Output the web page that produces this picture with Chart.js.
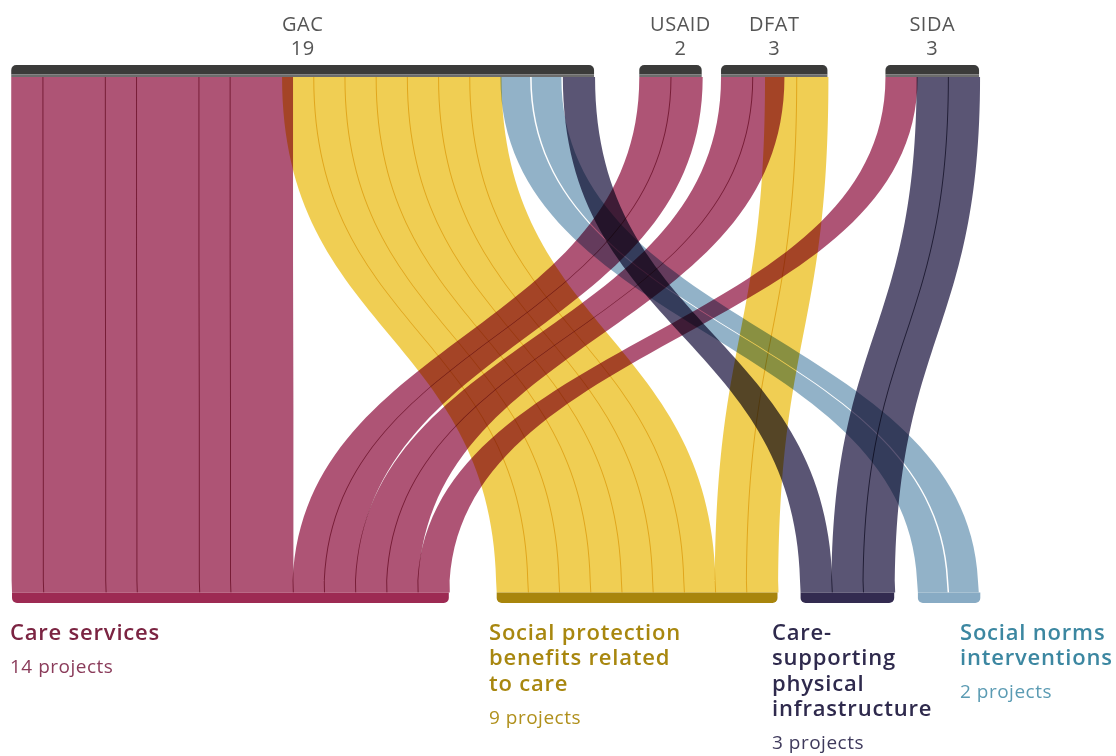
<!DOCTYPE html>
<html>
<head>
<meta charset="utf-8">
<script src="https://cdn.jsdelivr.net/npm/chart.js@4.4.1/dist/chart.umd.min.js"></script>
<style>
  html, body { margin: 0; padding: 0; background: #fff; }
  #wrap { width: 1116px; height: 756px; }
</style>
</head>
<body>
<div id="wrap"><canvas id="flowChart"></canvas></div>
<script>
// Funders (top row) and care categories (bottom row)
const sources = ['GAC', 'USAID', 'DFAT', 'SIDA'];
const sourceProjects = [19, 2, 3, 3];
const targetLines = [
    ['Care services'],
    ['Social protection', 'benefits related', 'to care'],
    ['Care-', 'supporting', 'physical', 'infrastructure'],
    ['Social norms', 'interventions']
];
const targetProjects = [14, 9, 3, 2];

// One entry per ribbon, in the order the ribbons leave each funder
const flowFrom = [0, 0, 0, 0, 0, 0,  0, 0, 0, 0, 0, 0, 0,  0, 0,  0,  1, 1,  2, 2, 2, 2,  3, 3, 3];
const flowTo   = [0, 0, 0, 0, 0, 0,  1, 1, 1, 1, 1, 1, 1,  3, 3,  2,  0, 0,  0, 0, 1, 1,  0, 2, 2];
const flowSize = [1, 2, 1, 2, 1, 2,  1, 1, 1, 1, 1, 1, 1,  1, 1,  1,  1, 1,  1, 1, 1, 1,  1, 1, 1];

// Layout (in project widths along the x axis)
const X_MAX = 1116 / 31.2;
const sourceStart = [0.36, 20.49, 23.11, 28.38];
const sourceOverlap = [0.32, 0, 0.59, 0];   // care / social protection share projects here
const sourceLabelShift = [0, 10, 0, 0];
const targetStart = [0.385, 15.92, 25.66, 29.42];
const targetLabelX = [10, 489, 772, 960];

const ribbonColors = ['#ae5475', '#f0ce53', '#5a5574', '#92b2c8'];
const barColors = ['#9d2a53', '#a8850c', '#332b50', '#88abc4'];
const titleColors = ['#7b2442', '#a8870f', '#2f2a4d', '#3c87a1'];
const subColors = ['#8a3b5a', '#b0901c', '#3f3a5c', '#5b9bb3'];
const edgePad = [1, 1, 1, -1.5]; // 1px overlap draws the thin seam, negative leaves a white gap

const TOP_BAR = 12;
const BOTTOM_BAR = 10.5;
const FONT = '"Open Sans", "Noto Sans", sans-serif';

// Place each ribbon at its funder (top) and at its category (bottom)
function layoutRibbons() {
    const srcPos = sourceStart.slice();
    const srcLast = sources.map(() => null);
    const tgtPos = targetStart.slice();
    return flowFrom.map((s, i) => {
        const t = flowTo[i];
        if (srcLast[s] === 0 && t === 1) srcPos[s] -= sourceOverlap[s];
        srcLast[s] = t;
        const r = { source: s, target: t, size: flowSize[i], top: srcPos[s], bottom: tgtPos[t] };
        srcPos[s] += flowSize[i];
        tgtPos[t] += flowSize[i];
        return r;
    });
}

const ribbons = layoutRibbons();

const sankeyPlugin = {
    id: 'sankeyDraw',
    beforeDraw(chart) {
        const ctx = chart.ctx;
        const xs = chart.scales.x;
        const ys = chart.scales.y;
        const yTop = ys.getPixelForValue(0);
        const yBottom = ys.getPixelForValue(1);
        const y0 = yTop + TOP_BAR;
        const y1 = yBottom - BOTTOM_BAR;
        const ym = (y0 + y1) / 2;

        ctx.save();
        ctx.fillStyle = '#fff';
        ctx.fillRect(0, 0, chart.width, chart.height);

        // Ribbons, multiplied so crossings darken
        ctx.globalCompositeOperation = 'multiply';
        ribbons.forEach(r => {
            const pad = edgePad[r.target];
            const a0 = xs.getPixelForValue(r.top);
            const a1 = xs.getPixelForValue(r.top + r.size) + pad;
            const b0 = xs.getPixelForValue(r.bottom);
            const b1 = xs.getPixelForValue(r.bottom + r.size) + pad;
            ctx.beginPath();
            ctx.moveTo(a0, y0);
            ctx.lineTo(a1, y0);
            ctx.bezierCurveTo(a1, ym, b1, ym, b1, y1);
            ctx.lineTo(b0, y1);
            ctx.bezierCurveTo(b0, ym, a0, ym, a0, y0);
            ctx.closePath();
            ctx.fillStyle = ribbonColors[r.target];
            ctx.fill();
        });
        ctx.globalCompositeOperation = 'source-over';

        // Funder bars and labels
        sources.forEach((name, s) => {
            const mine = ribbons.filter(r => r.source === s);
            const left = xs.getPixelForValue(Math.min(...mine.map(r => r.top)));
            const right = xs.getPixelForValue(Math.max(...mine.map(r => r.top + r.size)));
            ctx.fillStyle = '#3b3b3a';
            ctx.beginPath();
            ctx.roundRect(left, yTop, right - left, TOP_BAR - 2.5, [5, 5, 0, 0]);
            ctx.fill();
            ctx.fillStyle = '#6c6c6c';
            ctx.fillRect(left, yTop + TOP_BAR - 2.5, right - left, 2.5);

            const cx = (left + right) / 2 + sourceLabelShift[s];
            ctx.fillStyle = '#555555';
            ctx.font = '20px ' + FONT;
            ctx.letterSpacing = '0.5px';
            ctx.textAlign = 'center';
            ctx.textBaseline = 'alphabetic';
            ctx.fillText(name, cx, yTop - 34);
            ctx.fillText(String(sourceProjects[s]), cx, yTop - 10);
        });

        // Category bars and labels
        targetLines.forEach((lines, t) => {
            const left = xs.getPixelForValue(targetStart[t]);
            const right = xs.getPixelForValue(targetStart[t] + targetProjects[t]);
            ctx.fillStyle = barColors[t];
            ctx.beginPath();
            ctx.roundRect(left, y1, right - left, BOTTOM_BAR, [0, 0, 5, 5]);
            ctx.fill();

            ctx.textAlign = 'left';
            let y = yBottom + 37;
            ctx.fillStyle = titleColors[t];
            ctx.font = '600 22px ' + FONT;
            ctx.letterSpacing = '0.8px';
            lines.forEach((line, k) => {
                ctx.fillText(line, targetLabelX[t], y + k * 25.3);
            });
            y += (lines.length - 1) * 25.3 + 33;
            ctx.fillStyle = subColors[t];
            ctx.font = '19px ' + FONT;
            ctx.letterSpacing = '0.5px';
            ctx.fillText(targetProjects[t] + ' projects', targetLabelX[t], y);
        });
        ctx.restore();
    }
};

new Chart(document.getElementById('flowChart'), {
    type: 'scatter',
    data: { datasets: [{ data: [] }] },
    options: {
        responsive: true,
        maintainAspectRatio: false,
        animation: false,
        events: [],
        layout: { padding: { top: 65, bottom: 153, left: 0, right: 0 } },
        scales: {
            x: { type: 'linear', min: 0, max: X_MAX, display: false },
            y: { type: 'linear', min: 0, max: 1, reverse: true, display: false }
        },
        plugins: { legend: { display: false }, tooltip: { enabled: false } }
    },
    plugins: [sankeyPlugin]
});
</script>
</body>
</html>
